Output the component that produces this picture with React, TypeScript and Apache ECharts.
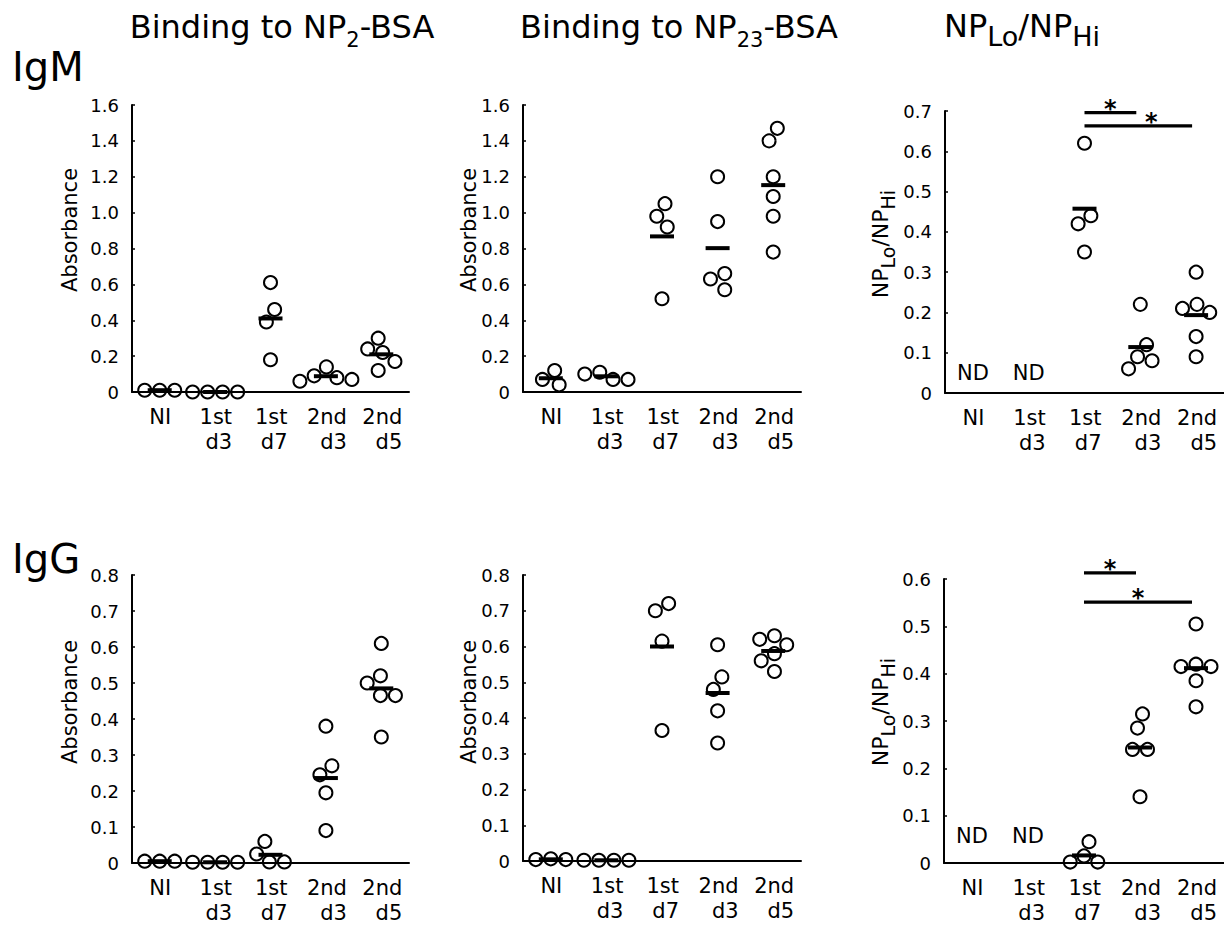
import React, { useEffect, useRef } from 'react';
import * as echarts from 'echarts';

const FONT = 'DejaVu Sans';

const categories = ['NI', '1st\nd3', '1st\nd7', '2nd\nd3', '2nd\nd5'];

// Individual mouse readings per group: NI, 1st d3, 1st d7, 2nd d3, 2nd d5
const igmNp2: number[][] = [
  [0.01, 0.01, 0.01],
  [0, 0, 0, 0],
  [0.61, 0.46, 0.39, 0.18],
  [0.14, 0.09, 0.08, 0.06, 0.07],
  [0.3, 0.24, 0.22, 0.17, 0.12],
];
const igmNp23: number[][] = [
  [0.07, 0.12, 0.04],
  [0.07, 0.11, 0.07, 0.1],
  [1.05, 0.98, 0.92, 0.52],
  [1.2, 0.95, 0.66, 0.63, 0.57],
  [1.47, 1.4, 1.2, 1.09, 0.98, 0.78],
];
const igmRatio: number[][] = [
  [],
  [],
  [0.62, 0.44, 0.42, 0.35],
  [0.22, 0.12, 0.09, 0.08, 0.06],
  [0.3, 0.22, 0.21, 0.2, 0.14, 0.09],
];
const iggNp2: number[][] = [
  [0.005, 0.005, 0.005],
  [0.002, 0.002, 0.002, 0.002],
  [0.06, 0.025, 0.003, 0.003],
  [0.38, 0.27, 0.245, 0.195, 0.09],
  [0.61, 0.52, 0.5, 0.465, 0.465, 0.35],
];
const iggNp23: number[][] = [
  [0.004, 0.006, 0.004],
  [0.002, 0.002, 0.002, 0.002],
  [0.72, 0.7, 0.615, 0.365],
  [0.605, 0.515, 0.48, 0.42, 0.33],
  [0.63, 0.62, 0.605, 0.58, 0.56, 0.53],
];
const iggRatio: number[][] = [
  [],
  [],
  [0.045, 0.015, 0.002, 0.002],
  [0.315, 0.285, 0.24, 0.24, 0.14],
  [0.505, 0.42, 0.415, 0.415, 0.385, 0.33],
];

// Significance brackets: [from group, to group, bracket level]
const igmSig = [
  [2, 3, 0.696],
  [2, 4, 0.663],
];
const iggSig = [
  [2, 3, 0.613],
  [2, 4, 0.551],
];

// Groups where the ratio is not determined, and the level of the "ND" note
const ndGroups = [0, 1];
const ndLevelIgm = 0.05;
const ndLevelIgg = 0.058;

// Axis ranges: [max, step]
const absIgmAxis = [1.6, 0.2];
const ratioIgmAxis = [0.7, 0.1];
const absIggAxis = [0.8, 0.1];
const ratioIggAxis = [0.6, 0.1];

const MARKER = 13;
const GAP = 15; // centre distance at which two circles just touch

// Beeswarm: spread points that would overlap sideways, in pixels
function swarm(values: number[], pxPerUnit: number): number[] {
  const order = values.map((_, i) => i).sort((a, b) => values[b] - values[a]);
  const off = new Array(values.length).fill(0);
  const placed: { x: number; y: number }[] = [];
  for (const i of order) {
    const y = values[i] * pxPerUnit;
    let chosen = 0;
    for (let k = 0; k < 800; k++) {
      const cands = k === 0 ? [0] : [-k * 0.25, k * 0.25];
      const hit = cands.find((x) =>
        placed.every((p) => (p.x - x) ** 2 + (p.y - y) ** 2 >= GAP * GAP - 1e-6)
      );
      if (hit !== undefined) {
        chosen = hit;
        break;
      }
    }
    placed.push({ x: chosen, y });
    off[i] = chosen;
  }
  // centre each vertically connected cluster on its group
  let start = 0;
  for (let j = 1; j <= order.length; j++) {
    if (j === order.length || (values[order[j - 1]] - values[order[j]]) * pxPerUnit >= GAP) {
      const ids = order.slice(start, j);
      const xs = ids.map((k) => off[k]);
      const shift = -(Math.min(...xs) + Math.max(...xs)) / 2;
      ids.forEach((k) => (off[k] += shift));
      start = j;
    }
  }
  return off;
}

const mean = (a: number[]) => a.reduce((s, v) => s + v, 0) / a.length;

type Panel = {
  groups: number[][];
  axis: number[];
  grid: { left: number; top: number; width: number; height: number };
  ratio: boolean;
  nameAt: number[];
  sig?: number[][];
  ndLevel?: number;
};

const panels: Panel[] = [
  { groups: igmNp2, axis: absIgmAxis, grid: { left: 132, top: 105, width: 277, height: 287 }, ratio: false, nameAt: [70, 230] },
  { groups: igmNp23, axis: absIgmAxis, grid: { left: 523, top: 105, width: 278, height: 287 }, ratio: false, nameAt: [469, 230] },
  { groups: igmRatio, axis: ratioIgmAxis, grid: { left: 945, top: 111, width: 279, height: 282 }, ratio: true, nameAt: [880, 244], sig: igmSig, ndLevel: ndLevelIgm },
  { groups: iggNp2, axis: absIggAxis, grid: { left: 132, top: 575, width: 277, height: 288 }, ratio: false, nameAt: [70, 702] },
  { groups: iggNp23, axis: absIggAxis, grid: { left: 523, top: 575, width: 278, height: 286 }, ratio: false, nameAt: [469, 702] },
  { groups: iggRatio, axis: ratioIggAxis, grid: { left: 944, top: 579, width: 280, height: 284 }, ratio: true, nameAt: [880, 712], sig: iggSig, ndLevel: ndLevelIgg },
];

function measure(text: string, size: number): number {
  const ctx = document.createElement('canvas').getContext('2d');
  if (!ctx) return text.length * size * 0.6;
  ctx.font = `${size}px "${FONT}"`;
  return ctx.measureText(text).width;
}

// Rich styles for a main run plus a subscript run
function subRich(F: number, S: number, d: number) {
  const L = 2 * (d + 0.154 * S + 0.346 * F);
  return {
    m: { fontSize: F, fontFamily: FONT, lineHeight: L, verticalAlign: 'middle', color: '#000' },
    s: { fontSize: S, fontFamily: FONT, lineHeight: S, verticalAlign: 'bottom', color: '#000' },
  };
}

function buildOption() {
  const labelRich: Record<string, any> = {};
  categories.forEach((c, i) => {
    const w = Math.max(...c.split('\n').map((l) => measure(l, 21)));
    labelRich['r' + i] = { width: Math.ceil(w) + 1, align: 'right', fontSize: 21, lineHeight: 25, fontFamily: FONT, color: '#000' };
  });

  const grid: any[] = [];
  const xAxis: any[] = [];
  const yAxis: any[] = [];
  const series: any[] = [];
  const graphic: any[] = [];

  panels.forEach((p, k) => {
    const [max, step] = p.axis;
    grid.push({ ...p.grid, containLabel: false, outerBoundsMode: 'none' });
    xAxis.push({
      type: 'category',
      gridIndex: k,
      data: categories,
      boundaryGap: true,
      z: 5,
      axisLine: { lineStyle: { color: '#000', width: 2 } },
      axisTick: { show: false },
      splitLine: { show: false },
      axisLabel: {
        interval: 0,
        margin: 12,
        formatter: (v: string, i: number) => v.split('\n').map((l) => `{r${i}|${l}}`).join('\n'),
        rich: labelRich,
      },
    });
    yAxis.push({
      type: 'value',
      gridIndex: k,
      min: 0,
      max,
      interval: step,
      z: 5,
      axisLine: { show: true, lineStyle: { color: '#000', width: 2 } },
      axisTick: { show: true, inside: true, length: 3, lineStyle: { color: '#000', width: 1.5 } },
      splitLine: { show: false },
      axisLabel: {
        margin: 13,
        fontSize: 18,
        fontFamily: FONT,
        color: '#000',
        formatter: (v: number) => (v === 0 ? '0' : v.toFixed(1)),
      },
    });

    const ppu = p.grid.height / max;
    const points: any[] = [];
    const means: number[][] = [];
    p.groups.forEach((vals, gi) => {
      if (!vals.length) return;
      const off = swarm(vals, ppu);
      vals.forEach((v, j) => points.push({ value: [gi, v], symbolOffset: [off[j], 0] }));
      means.push([gi, mean(vals)]);
    });

    series.push({
      type: 'scatter',
      xAxisIndex: k,
      yAxisIndex: k,
      symbol: 'circle',
      symbolSize: MARKER,
      itemStyle: { color: '#fff', borderColor: '#000', borderWidth: 2, opacity: 1 },
      data: points,
      z: 2,
      silent: true,
    });
    series.push({
      type: 'custom',
      xAxisIndex: k,
      yAxisIndex: k,
      z: 3,
      silent: true,
      encode: { x: 0, y: 1 },
      data: means,
      renderItem: (_: any, api: any) => {
        const c = api.coord([api.value(0), api.value(1)]);
        return {
          type: 'line',
          shape: { x1: c[0] - 12, y1: c[1], x2: c[0] + 12, y2: c[1] },
          style: { stroke: '#000', lineWidth: 4 },
        };
      },
    });
    if (p.sig) {
      const sig = p.sig;
      series.push({
        type: 'custom',
        xAxisIndex: k,
        yAxisIndex: k,
        z: 3,
        clip: false,
        silent: true,
        encode: { x: [0, 1], y: 2 },
        data: sig,
        renderItem: (params: any, api: any) => {
          const a = api.coord([api.value(0), api.value(2)]);
          const b = api.coord([api.value(1), api.value(2)]);
          const x2 = b[0] - 4;
          let sx = (a[0] + x2) / 2;
          // keep the star clear of a shorter bracket drawn just above
          sig.forEach((o, j) => {
            if (j === params.dataIndex) return;
            const oa = api.coord([o[0], o[2]]);
            const ob = api.coord([o[1], o[2]]);
            const oEnd = ob[0] - 4;
            if (oa[1] < a[1] && a[1] - oa[1] < 20 && sx > oa[0] - 8 && sx < oEnd + 8) sx = oEnd + 15;
          });
          return {
            type: 'group',
            children: [
              { type: 'line', shape: { x1: a[0], y1: a[1], x2, y2: b[1] }, style: { stroke: '#000', lineWidth: 3.2 } },
              {
                type: 'text',
                x: sx,
                y: a[1] - 4,
                style: { text: '*', fontSize: 24, fontWeight: 'bold', fontFamily: FONT, fill: '#000', align: 'center', verticalAlign: 'middle' },
              },
            ],
          };
        },
      });
    }
    if (p.ndLevel !== undefined) {
      series.push({
        type: 'custom',
        xAxisIndex: k,
        yAxisIndex: k,
        z: 3,
        silent: true,
        encode: { x: 0, y: 1 },
        data: ndGroups.map((g) => [g, p.ndLevel]),
        renderItem: (_: any, api: any) => {
          const c = api.coord([api.value(0), api.value(1)]);
          return {
            type: 'text',
            x: c[0],
            y: c[1],
            style: { text: 'ND', fontSize: 21, fontFamily: FONT, fill: '#000', align: 'center', verticalAlign: 'middle' },
          };
        },
      });
    }

    // y-axis title
    graphic.push(
      p.ratio
        ? {
            type: 'text',
            x: p.nameAt[0],
            y: p.nameAt[1],
            rotation: Math.PI / 2,
            style: {
              text: '{m|NP}{s|Lo}{m|/NP}{s|Hi}',
              rich: subRich(22, 19, 7),
              align: 'center',
              verticalAlign: 'middle',
            },
          }
        : {
            type: 'text',
            x: p.nameAt[0],
            y: p.nameAt[1],
            rotation: Math.PI / 2,
            style: { text: 'Absorbance', fontSize: 21, fontFamily: FONT, fill: '#000', align: 'center', verticalAlign: 'middle' },
          }
    );
  });

  // column titles and row labels
  graphic.push(
    { type: 'text', x: 282, y: 4, style: { text: '{m|Binding to NP}{s|2}{m|-BSA}', rich: subRich(32, 21, 8.7), align: 'center', verticalAlign: 'top' } },
    { type: 'text', x: 679, y: 4, style: { text: '{m|Binding to NP}{s|23}{m|-BSA}', rich: subRich(32, 21, 8.7), align: 'center', verticalAlign: 'top' } },
    { type: 'text', x: 1022, y: 2, style: { text: '{m|NP}{s|Lo}{m|/NP}{s|Hi}', rich: subRich(32, 27, 9), align: 'center', verticalAlign: 'top' } },
    { type: 'text', x: 12, y: 67, style: { text: 'IgM', fontSize: 40, fontFamily: FONT, fill: '#000', align: 'left', verticalAlign: 'middle' } },
    { type: 'text', x: 12, y: 559, style: { text: 'IgG', fontSize: 40, fontFamily: FONT, fill: '#000', align: 'left', verticalAlign: 'middle' } }
  );

  return {
    animation: false,
    backgroundColor: '#fff',
    textStyle: { fontFamily: FONT, color: '#000' },
    grid,
    xAxis,
    yAxis,
    series,
    graphic,
  };
}

export default function App() {
  const ref = useRef<HTMLDivElement>(null);
  useEffect(() => {
    if (!ref.current) return;
    const chart = echarts.init(ref.current, undefined, { renderer: 'svg' });
    chart.setOption(buildOption() as any);
    return () => chart.dispose();
  }, []);
  return (
    <div
      ref={ref}
      style={{ position: 'absolute', left: 0, top: 0, width: 1224, height: 931, background: '#fff' }}
    />
  );
}
